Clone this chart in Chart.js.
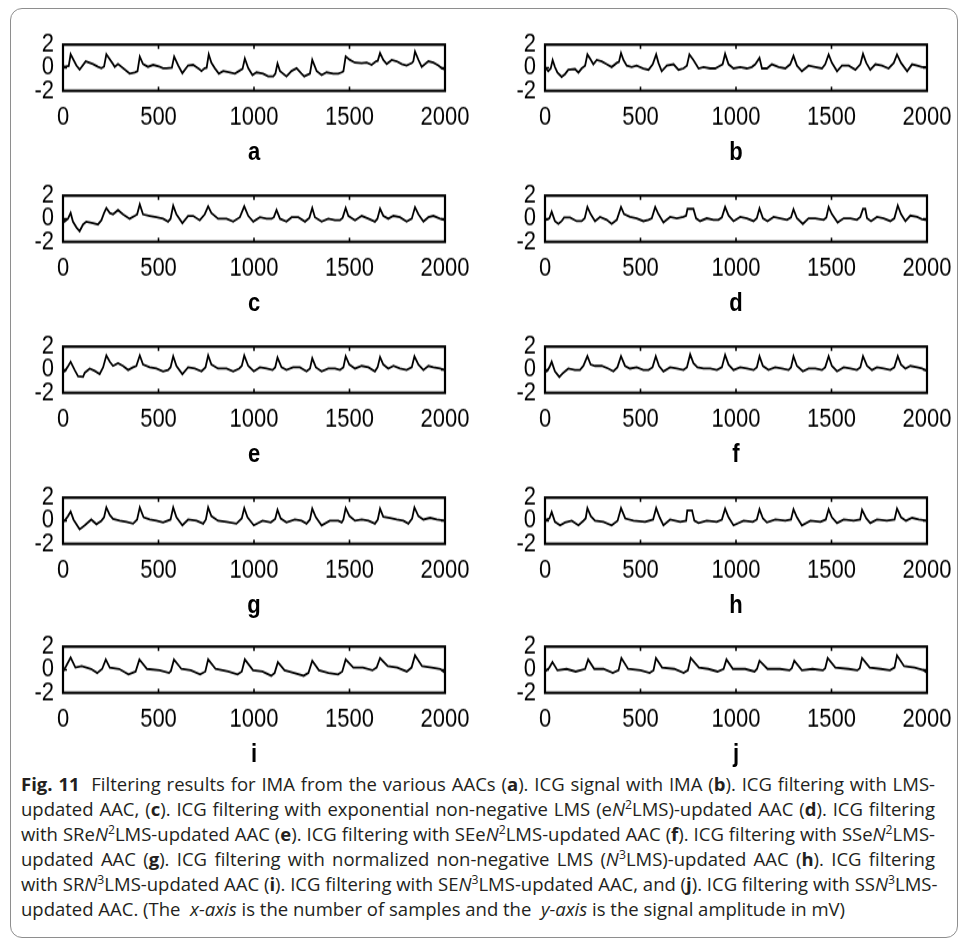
<!DOCTYPE html>
<html><head><meta charset="utf-8">
<script src="https://cdn.jsdelivr.net/npm/chart.js@4/dist/chart.umd.min.js"></script>
<style>
html,body{margin:0;padding:0;background:#fff;}
body{width:965px;height:945px;position:relative;overflow:hidden;}
#frame{position:absolute;left:10px;top:8px;width:948px;height:930px;border:1px solid #8e8e8e;border-radius:12px;box-sizing:border-box;}
.panel{position:absolute;transform-origin:0 0;}
.letter{position:absolute;font-family:"Liberation Sans",Arial,sans-serif;font-weight:bold;font-size:22px;color:#000;transform-origin:50% 50%;width:40px;text-align:center;line-height:24px;}
#caption{position:absolute;left:21px;top:771px;width:914px;font-family:"Open Sans",sans-serif;font-size:18.5px;line-height:25px;color:#231f20;white-space:nowrap;}
#caption .j{text-align:justify;text-align-last:justify;}
#caption sup{font-size:0.66em;line-height:0;vertical-align:0.55em;}
</style>
</head><body>
<div id="frame"></div>
<div id="root"></div>
<div id="caption">
<div class="j"><b>Fig. 11</b>&nbsp; Filtering results for IMA from the various AACs (<b>a</b>). ICG signal with IMA (<b>b</b>). ICG filtering with LMS-</div>
<div class="j">updated AAC, (<b>c</b>). ICG filtering with exponential non-negative LMS (e<i>N</i><sup>2</sup>LMS)-updated AAC (<b>d</b>). ICG filtering</div>
<div class="j">with SRe<i>N</i><sup>2</sup>LMS-updated AAC (<b>e</b>). ICG filtering with SEe<i>N</i><sup>2</sup>LMS-updated AAC (<b>f</b>). ICG filtering with SSe<i>N</i><sup>2</sup>LMS-</div>
<div class="j">updated AAC (<b>g</b>). ICG filtering with normalized non-negative LMS (<i>N</i><sup>3</sup>LMS)-updated AAC (<b>h</b>). ICG filtering</div>
<div class="j">with SR<i>N</i><sup>3</sup>LMS-updated AAC (<b>i</b>). ICG filtering with SE<i>N</i><sup>3</sup>LMS-updated AAC, and (<b>j</b>). ICG filtering with SS<i>N</i><sup>3</sup>LMS-</div>
<div>updated AAC. (The &nbsp;<i>x-axis</i> is the number of samples and the &nbsp;<i>y-axis</i> is the signal amplitude in mV)</div>
</div>
<script>
// ---------------- data ----------------
const panelLetters = ['a','b','c','d','e','f','g','h','i','j'];
const xTicks = [0, 500, 1000, 1500, 2000];
const yTicks = [-2, 0, 2];

// panel a: ICG signal with IMA
const sampA = [0,9,30,40,70,87,119,157,183,201,215,227,262,271,288,349,376,390,402,419,445,472,507,524,542,570,582,603,625,655,681,713,725,742,752,763,777,795,816,839,874,900,922,940,952,970,992,1013,1048,1074,1101,1112,1123,1136,1170,1197,1223,1249,1263,1293,1305,1328,1354,1380,1415,1441,1459,1468,1480,1502,1529,1564,1590,1616,1639,1648,1660,1677,1695,1721,1747,1773,1799,1826,1834,1843,1861,1878,1913,1939,1965,1983,2000];
const ampA  = [0.15,0.08,0.15,1.16,0.2,-0.16,0.56,0.32,0.08,-0.04,0.1,1.16,0.32,0.08,0.32,-0.51,-0.4,-0.3,0.97,0.32,0.08,0.25,0.08,-0.04,-0.04,0.0,0.97,0.2,-0.47,0.2,0.25,-0.11,-0.28,-0.04,0.0,1.16,0.44,-0.04,-0.51,-0.28,-0.4,-0.51,-0.28,-0.1,0.8,-0.04,-0.63,-0.4,-0.51,-0.75,-0.75,-0.5,0.37,-0.28,-0.75,-0.28,-0.04,-0.51,-0.75,-0.5,0.68,-0.28,-0.63,-0.4,-0.51,-0.51,-0.4,-0.3,0.97,0.68,0.44,0.4,0.44,0.25,0.56,0.6,1.28,0.68,0.32,0.68,0.56,0.32,0.2,0.4,0.55,1.4,0.68,0.08,0.56,0.44,0.2,-0.04,-0.16];

// panel b: LMS-updated AAC
const sampB = [0,17,30,40,52,65,87,105,122,157,175,192,210,222,236,253,271,297,323,349,376,387,398,411,428,454,480,515,542,564,582,594,611,638,673,699,725,743,756,777,804,830,865,891,917,930,943,961,987,1022,1057,1083,1101,1123,1136,1162,1188,1223,1258,1284,1301,1319,1345,1380,1415,1450,1467,1485,1502,1529,1555,1590,1625,1651,1665,1682,1703,1730,1764,1799,1826,1843,1864,1896,1922,1948,1974,2000];
const ampB  = [0.06,-0.3,-0.06,0.67,0.06,-0.42,-0.79,-0.55,-0.18,-0.11,-0.42,-0.06,0.18,1.15,0.79,0.3,0.67,0.55,0.3,0.06,0.42,0.5,1.27,0.67,0.18,0.06,0.18,-0.06,-0.18,0.3,1.15,0.42,-0.3,0.18,0.3,-0.18,-0.06,0.18,1.15,0.67,-0.06,0.06,-0.06,-0.06,0.18,0.3,1.2,0.3,-0.06,0.06,-0.06,0.06,0.3,0.86,-0.06,-0.06,0.3,0.06,-0.06,0.3,1.03,0.18,-0.3,0.18,0.06,-0.06,0.3,1.15,0.42,-0.3,0.18,0.18,-0.18,0.3,1.2,0.42,-0.18,0.3,0.18,-0.06,0.42,1.15,0.42,-0.3,0.3,0.18,0.06,0.06];

// panel c: eN2LMS-updated AAC
const sampC = [0,9,26,40,52,70,87,105,122,157,183,201,215,227,245,262,288,314,349,376,388,402,419,454,489,524,550,563,577,594,625,655,681,716,742,760,777,812,856,891,926,949,970,996,1031,1066,1092,1104,1118,1136,1170,1197,1232,1267,1290,1305,1319,1354,1389,1424,1450,1464,1480,1494,1529,1564,1599,1633,1646,1660,1677,1703,1730,1764,1799,1826,1843,1861,1887,1913,1939,1974,2000];
const ampC  = [0.0,-0.25,0.0,0.5,-0.25,-0.75,-1.08,-0.5,-0.25,-0.38,-0.5,-0.13,0.5,0.93,0.5,0.38,0.75,0.38,0.0,0.25,0.38,1.25,0.38,0.25,0.13,0.0,-0.25,0.0,1.13,0.38,-0.38,0.25,0.25,-0.13,0.38,1.08,0.5,0.0,0.0,-0.25,0.13,1.08,0.25,-0.25,0.13,0.0,0.0,0.13,0.75,0.0,-0.25,0.13,0.13,-0.25,0.08,0.93,0.13,-0.25,0.0,-0.13,-0.13,0.08,0.93,0.25,-0.13,0.25,0.0,-0.25,0.0,0.88,0.25,0.0,0.25,0.13,-0.25,0.0,1.0,0.38,-0.25,0.13,0.25,0.0,-0.13];

// panel d: SReN2LMS-updated AAC
const sampD = [0,9,23,35,52,70,87,100,131,166,192,208,222,239,262,288,323,349,376,398,414,445,480,515,542,559,577,594,620,655,690,725,739,746,777,791,812,847,882,908,926,943,961,987,1022,1057,1092,1109,1123,1141,1165,1197,1232,1267,1288,1301,1319,1350,1380,1415,1459,1473,1485,1502,1532,1564,1599,1633,1651,1665,1677,1686,1707,1738,1773,1808,1829,1847,1864,1887,1913,1948,1974,2000];
const ampD  = [0.0,-0.09,0.04,0.6,-0.21,-0.45,-0.21,0.11,0.11,-0.21,-0.21,0.04,1.02,0.4,-0.21,0.16,-0.09,-0.45,-0.09,1.02,0.4,0.16,0.04,-0.21,-0.09,0.04,1.02,0.4,-0.33,0.16,0.04,0.16,0.28,0.85,0.85,0.04,-0.21,0.04,-0.09,-0.09,0.11,1.02,0.28,-0.21,0.16,0.04,-0.21,0.04,0.9,0.04,-0.21,0.16,0.04,-0.09,0.11,0.82,0.04,-0.45,0.04,0.04,-0.09,0.11,1.02,0.4,-0.33,0.04,0.04,-0.09,0.16,0.85,0.85,0.04,-0.21,0.16,0.04,-0.21,0.04,1.14,0.4,-0.21,0.28,0.16,-0.04,-0.13];

// panel e: SEeN2LMS-updated AAC
const sampE = [0,9,23,40,61,79,105,114,140,166,192,210,227,245,262,288,314,341,367,384,402,419,454,489,524,550,563,577,594,625,655,690,725,746,760,777,812,856,891,922,936,949,970,999,1031,1066,1097,1111,1123,1144,1170,1205,1240,1275,1293,1305,1324,1354,1389,1424,1450,1468,1480,1499,1529,1564,1599,1633,1647,1660,1677,1703,1730,1764,1799,1826,1840,1861,1887,1913,1939,1974,2000];
const ampE  = [0.0,-0.14,0.21,0.69,-0.02,-0.57,-0.62,-0.26,0.1,-0.1,-0.38,0.21,1.24,0.69,0.33,0.57,0.33,-0.02,0.21,0.33,1.24,0.45,0.21,0.1,-0.14,-0.02,0.21,1.17,0.33,-0.38,0.21,0.1,-0.14,0.21,1.24,0.45,0.1,0.1,-0.14,0.1,0.33,1.24,0.33,-0.14,0.21,0.1,-0.02,0.21,1.05,0.21,-0.02,0.21,0.21,-0.14,0.1,1.0,0.21,-0.14,0.1,0.1,-0.02,0.21,1.17,0.45,0.1,0.33,0.21,-0.14,0.21,1.1,0.45,0.1,0.33,0.1,-0.02,0.21,1.17,0.45,-0.02,0.33,0.21,0.1,-0.02];

// panel f: SSeN2LMS-updated AAC
const sampF = [0,9,23,35,52,75,96,122,157,183,201,222,239,262,297,332,358,379,398,419,445,480,515,542,563,580,597,620,655,690,725,743,760,777,798,830,865,900,926,943,961,987,1022,1057,1092,1109,1123,1141,1170,1205,1240,1275,1288,1301,1319,1350,1380,1415,1450,1467,1485,1502,1529,1564,1599,1633,1651,1665,1686,1712,1738,1773,1808,1829,1847,1864,1887,1913,1948,1974,2000];
const ampF  = [0.0,-0.14,0.21,0.69,-0.14,-0.62,-0.26,0.1,-0.02,-0.02,0.33,1.17,0.45,0.33,0.33,0.1,-0.14,0.21,1.17,0.33,0.1,0.21,-0.02,-0.02,0.21,1.17,0.33,-0.14,0.21,0.1,-0.02,0.21,1.33,0.57,0.21,0.1,0.1,-0.02,0.21,1.29,0.45,-0.02,0.21,0.1,-0.02,0.21,1.17,0.33,-0.02,0.21,0.1,-0.02,0.21,1.17,0.33,-0.14,0.1,0.1,-0.02,0.21,1.17,0.33,-0.14,0.21,0.1,-0.02,0.21,1.17,0.33,-0.02,0.21,0.1,-0.02,0.21,1.17,0.45,0.1,0.33,0.21,0.1,-0.1];

// panel g: normalized non-negative N3LMS-updated AAC
const sampG = [0,9,26,40,55,87,114,148,175,201,215,227,245,262,297,332,367,388,402,422,454,489,524,563,577,594,625,655,699,734,748,760,777,812,856,908,936,949,966,999,1045,1088,1111,1123,1140,1170,1214,1249,1275,1293,1305,1324,1354,1397,1441,1459,1468,1480,1500,1529,1564,1599,1633,1648,1660,1677,1712,1747,1782,1808,1828,1840,1861,1887,1922,1957,2000];
const ampG  = [0.05,0.0,0.4,0.8,0.1,-0.75,-0.4,0.1,-0.3,0.0,0.3,1.15,0.5,0.15,0.0,-0.1,-0.25,0.1,1.15,0.3,0.1,0.0,-0.15,0.1,1.15,0.3,-0.4,0.1,0.0,-0.25,0.1,1.15,0.4,0.0,-0.1,-0.25,0.2,1.1,0.3,-0.4,0.0,-0.15,0.15,0.95,0.2,-0.15,0.1,0.0,-0.25,0.1,1.05,0.3,-0.4,0.0,0.0,-0.15,0.1,1.1,0.4,0.0,0.1,0.0,-0.25,0.1,1.05,0.35,0.25,0.1,0.0,-0.25,0.2,1.15,0.4,0.1,0.25,0.1,0.0];

// panel h: SRN3LMS-updated AAC
const sampH = [0,23,35,52,79,105,140,175,201,213,222,240,262,306,349,380,398,420,463,524,566,582,600,620,655,708,739,745,770,782,804,847,899,926,943,961,987,1040,1088,1109,1123,1141,1162,1206,1258,1288,1301,1319,1345,1390,1442,1470,1485,1502,1529,1564,1616,1650,1660,1682,1703,1738,1790,1830,1843,1864,1890,1922,1957,2000];
const ampH  = [0.05,0.2,0.75,-0.1,-0.4,-0.15,0.0,-0.4,0.0,0.2,1.1,0.4,0.0,-0.1,-0.4,0.0,1.1,0.2,0.0,-0.1,0.1,1.1,0.3,-0.4,0.1,-0.1,0.0,0.9,0.9,0.0,-0.2,0.0,-0.1,0.1,1.05,0.3,-0.4,0.0,-0.1,0.1,1.0,0.2,-0.15,0.1,0.0,0.1,1.0,0.3,-0.4,0.0,-0.1,0.1,1.0,0.3,-0.2,0.1,0.0,0.1,0.95,0.2,-0.2,0.1,0.0,0.1,1.05,0.3,0.0,0.25,0.1,0.0];

// panel i: SEN3LMS-updated AAC
const sampI = [0,16,40,65,98,147,179,205,224,245,294,343,380,400,440,506,555,565,581,620,669,718,745,760,799,865,914,936,952,995,1044,1090,1108,1125,1160,1210,1260,1285,1305,1340,1390,1440,1462,1480,1520,1570,1620,1642,1660,1700,1750,1800,1825,1843,1880,1930,1975,2000];
const ampI  = [-0.16,0.31,1.06,0.19,0.31,0.07,-0.28,0.07,0.89,0.19,0.07,-0.4,-0.16,0.89,0.07,-0.05,-0.28,-0.1,0.89,0.07,-0.05,-0.4,-0.16,0.89,0.07,-0.16,-0.4,-0.16,0.89,-0.05,-0.16,-0.52,-0.28,0.66,-0.05,-0.28,-0.52,-0.28,0.78,-0.05,-0.28,-0.4,-0.16,0.89,0.19,0.19,-0.05,0.19,1.01,0.31,0.19,-0.16,0.19,1.25,0.31,0.19,0.07,-0.28];

// panel j: SSN3LMS-updated AAC
const sampJ = [0,23,39,65,113,161,210,226,258,306,355,385,400,435,500,548,568,581,613,677,726,748,763,806,855,903,935,950,984,1048,1097,1110,1123,1165,1230,1280,1292,1305,1345,1400,1455,1467,1480,1520,1590,1635,1648,1660,1700,1758,1806,1830,1843,1880,1935,1984,2000];
const ampJ  = [-0.16,0.19,0.66,-0.05,0.07,-0.16,0.07,0.89,0.07,0.07,-0.28,-0.05,1.01,0.07,-0.05,-0.28,-0.05,1.01,0.19,0.07,-0.28,-0.05,1.01,0.19,0.07,-0.16,0.07,0.89,0.07,0.07,-0.16,0.07,0.78,0.07,0.07,-0.05,0.12,0.78,-0.05,0.07,-0.05,0.12,1.01,0.19,0.07,-0.05,0.12,1.01,0.19,0.07,-0.05,0.19,1.25,0.31,0.19,-0.05,-0.28];

const panelSamples = [sampA, sampB, sampC, sampD, sampE, sampF, sampG, sampH, sampI, sampJ];
const panelAmps    = [ampA, ampB, ampC, ampD, ampE, ampF, ampG, ampH, ampI, ampJ];

// ---------------- layout ----------------
const K = 1.2;               // vertical stretch of each panel
const boxLeft = [63, 545];
const boxTop = [35, 186, 337, 488, 637];
const boxW = 382, boxH = 56;
const yAxisW = 48, padTop = 14, padRight = 34;
const canvasW = yAxisW + boxW + padRight;
const areaH = boxH / K;
const canvasH = 100;
const tickFont = {family: "'Liberation Sans', Arial, sans-serif", size: 22};

const framePlugin = {
  id: 'frameTicks',
  afterDatasetsDraw(chart) {
    const {ctx, chartArea: a, scales} = chart;
    ctx.save();
    ctx.strokeStyle = '#000';
    ctx.lineWidth = 2.2;
    ctx.strokeRect(a.left, a.top, a.right - a.left, a.bottom - a.top);
    ctx.lineWidth = 1.6;
    ctx.beginPath();
    xTicks.forEach(v => {
      if (v === 0 || v === 2000) return;
      const px = scales.x.getPixelForValue(v);
      ctx.moveTo(px, a.bottom); ctx.lineTo(px, a.bottom - 3.5);
      ctx.moveTo(px, a.top); ctx.lineTo(px, a.top + 3.5);
    });
    const py = scales.y.getPixelForValue(0);
    ctx.moveTo(a.left, py); ctx.lineTo(a.left + 4, py);
    ctx.moveTo(a.right, py); ctx.lineTo(a.right - 4, py);
    ctx.stroke();
    ctx.restore();
  }
};

const root = document.getElementById('root');
panelLetters.forEach((letter, i) => {
  const col = i % 2, row = Math.floor(i / 2);
  const wrap = document.createElement('div');
  wrap.className = 'panel';
  wrap.style.left = (boxLeft[col] - yAxisW) + 'px';
  wrap.style.top = (boxTop[row] - padTop * K) + 'px';
  wrap.style.transform = 'scaleY(' + K + ')';
  const cv = document.createElement('canvas');
  cv.width = canvasW; cv.height = canvasH;
  cv.style.width = canvasW + 'px'; cv.style.height = canvasH + 'px';
  wrap.appendChild(cv);
  root.appendChild(wrap);

  const pts = panelSamples[i].map((s, k) => ({x: s, y: panelAmps[i][k]}));
  new Chart(cv, {
    type: 'line',
    data: {datasets: [{data: pts, borderColor: '#000', borderWidth: 1.8, pointRadius: 0, tension: 0, fill: false}]},
    options: {
      responsive: false, animation: false, devicePixelRatio: 1,
      layout: {padding: {top: padTop, right: padRight, left: 0, bottom: 0}},
      plugins: {legend: {display: false}, tooltip: {enabled: false}},
      scales: {
        x: {
          type: 'linear', min: 0, max: 2000,
          afterBuildTicks: s => { s.ticks = xTicks.map(v => ({value: v})); },
          grid: {display: false, drawTicks: false}, border: {display: false},
          ticks: {padding: 9, font: tickFont, color: '#000', maxRotation: 0, autoSkip: false, callback: v => String(v)},
          afterFit: s => { s.height = canvasH - padTop - areaH; }
        },
        y: {
          min: -2, max: 2,
          afterBuildTicks: s => { s.ticks = yTicks.map(v => ({value: v})); },
          grid: {display: false, drawTicks: false}, border: {display: false},
          ticks: {padding: 9, font: tickFont, color: '#000', autoSkip: false, callback: v => String(v)},
          afterFit: s => { s.width = yAxisW; }
        }
      }
    },
    plugins: [framePlugin]
  });

  const lab = document.createElement('div');
  lab.className = 'letter';
  lab.textContent = letter;
  lab.style.left = (boxLeft[col] + boxW / 2 - 20) + 'px';
  lab.style.top = (boxTop[row] + boxH + 61 - 12) + 'px';
  lab.style.transform = 'scaleY(' + K + ')';
  root.appendChild(lab);
});
</script>
</body></html>
